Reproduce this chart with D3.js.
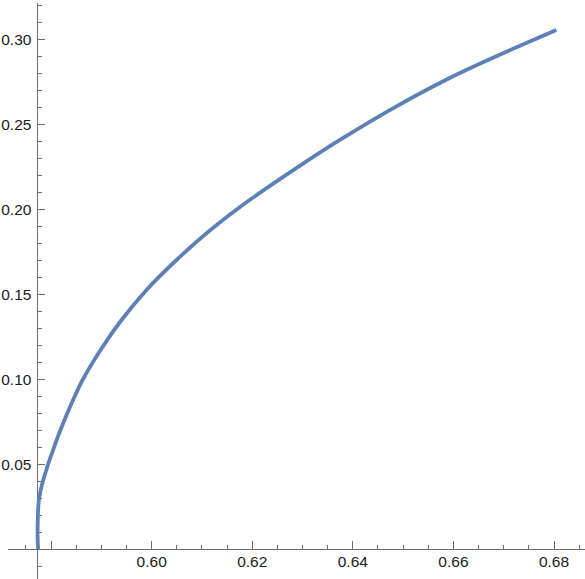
<!DOCTYPE html>
<html>
<head>
<meta charset="utf-8">
<script src="https://cdn.jsdelivr.net/npm/d3@7"></script>
<style>
  html, body { margin: 0; padding: 0; background: #fff; }
  svg { display: block; }
  text { font-family: "Liberation Sans", Arial, sans-serif; }
</style>
</head>
<body>
<svg id="chart" width="585" height="579"></svg>
<script>
// ---- data ----
const xValues = [0.57741, 0.57733, 0.57731, 0.57735, 0.57741, 0.57757, 0.57793, 0.57844, 0.57904, 0.57969, 0.58039, 0.58110, 0.58186, 0.58307, 0.58436, 0.58625, 0.58983, 0.59400, 0.59897, 0.60493, 0.61168, 0.61953, 0.62817, 0.63742, 0.64735, 0.65847, 0.66910, 0.68047];
const yValues = [0.0000, 0.0053, 0.0112, 0.0171, 0.0229, 0.0288, 0.0347, 0.0406, 0.0465, 0.0524, 0.0582, 0.0641, 0.0700, 0.0788, 0.0876, 0.0994, 0.1171, 0.1347, 0.1524, 0.1700, 0.1876, 0.2054, 0.2229, 0.2406, 0.2582, 0.2759, 0.2906, 0.3053];

const xMajorTicks = [0.58, 0.60, 0.62, 0.64, 0.66, 0.68];
const xTickLabels = ["", "0.60", "0.62", "0.64", "0.66", "0.68"];
const xMinorTicks = [0.575, 0.585, 0.59, 0.595, 0.605, 0.61, 0.615, 0.625, 0.63, 0.635, 0.645, 0.65, 0.655, 0.665, 0.67, 0.675, 0.685];
const yMajorTicks = [0.05, 0.10, 0.15, 0.20, 0.25, 0.30];
const yTickLabels = ["0.05", "0.10", "0.15", "0.20", "0.25", "0.30"];
const yMinorTicks = [-0.01, 0.01, 0.02, 0.03, 0.04, 0.06, 0.07, 0.08, 0.09, 0.11, 0.12, 0.13, 0.14, 0.16, 0.17, 0.18, 0.19, 0.21, 0.22, 0.23, 0.24, 0.26, 0.27, 0.28, 0.29, 0.31, 0.32];
const xAxisExtent = [0.5714, 0.6861];
const yAxisExtent = [-0.0176, 0.3212];
const axisOriginX = 0.57727; // where the vertical axis sits
const axisOriginY = 0;       // where the horizontal axis sits

// ---- scales ----
const x = d3.scaleLinear().domain([0.60, 0.68]).range([151.7, 554]);
const y = d3.scaleLinear().domain([0, 0.30]).range([549, 39]);

const svg = d3.select("#chart");
const axisColor = "#6e6e6e";
const textColor = "#1a1a1a";

// ---- axes lines ----
const gx = svg.append("g").attr("shape-rendering", "crispEdges");
gx.append("line")
  .attr("x1", x(xAxisExtent[0])).attr("x2", x(xAxisExtent[1]))
  .attr("y1", y(axisOriginY)).attr("y2", y(axisOriginY))
  .attr("stroke", axisColor).attr("stroke-width", 1);
gx.selectAll("line.maj").data(xMajorTicks).enter().append("line")
  .attr("class", "maj")
  .attr("x1", d => x(d)).attr("x2", d => x(d))
  .attr("y1", y(axisOriginY)).attr("y2", y(axisOriginY) - 8)
  .attr("stroke", axisColor);
gx.selectAll("line.min").data(xMinorTicks).enter().append("line")
  .attr("class", "min")
  .attr("x1", d => x(d)).attr("x2", d => x(d))
  .attr("y1", y(axisOriginY)).attr("y2", y(axisOriginY) - 4.5)
  .attr("stroke", axisColor);
svg.append("g").selectAll("text").data(xMajorTicks).enter().append("text")
  .attr("x", d => x(d)).attr("y", y(axisOriginY) + 18)
  .attr("text-anchor", "middle")
  .attr("font-size", "15.5px").attr("fill", textColor)
  .text((d, i) => xTickLabels[i]);

const gy = svg.append("g").attr("shape-rendering", "crispEdges");
gy.append("line")
  .attr("x1", x(axisOriginX)).attr("x2", x(axisOriginX))
  .attr("y1", y(yAxisExtent[0])).attr("y2", y(yAxisExtent[1]))
  .attr("stroke", axisColor).attr("stroke-width", 1);
gy.selectAll("line.maj").data(yMajorTicks).enter().append("line")
  .attr("class", "maj")
  .attr("x1", x(axisOriginX)).attr("x2", x(axisOriginX) + 7.5)
  .attr("y1", d => y(d)).attr("y2", d => y(d))
  .attr("stroke", axisColor);
gy.selectAll("line.min").data(yMinorTicks).enter().append("line")
  .attr("class", "min")
  .attr("x1", x(axisOriginX)).attr("x2", x(axisOriginX) + 4.5)
  .attr("y1", d => y(d)).attr("y2", d => y(d))
  .attr("stroke", axisColor);
svg.append("g").selectAll("text").data(yMajorTicks).enter().append("text")
  .attr("x", x(axisOriginX) - 6).attr("y", d => y(d))
  .attr("dy", "0.36em")
  .attr("text-anchor", "end")
  .attr("font-size", "15.5px").attr("fill", textColor)
  .text((d, i) => yTickLabels[i]);

// ---- curve ----
const pts = xValues.map((v, i) => [v, yValues[i]]);
const line = d3.line()
  .x(d => x(d[0])).y(d => y(d[1]))
  .curve(d3.curveCatmullRom.alpha(0.5));
svg.append("path")
  .datum(pts)
  .attr("d", line)
  .attr("fill", "none")
  .attr("stroke", "#5e81b5")
  .attr("stroke-width", 3.8)
  .attr("stroke-linecap", "butt")
  .attr("stroke-linejoin", "round");
</script>
</body>
</html>
